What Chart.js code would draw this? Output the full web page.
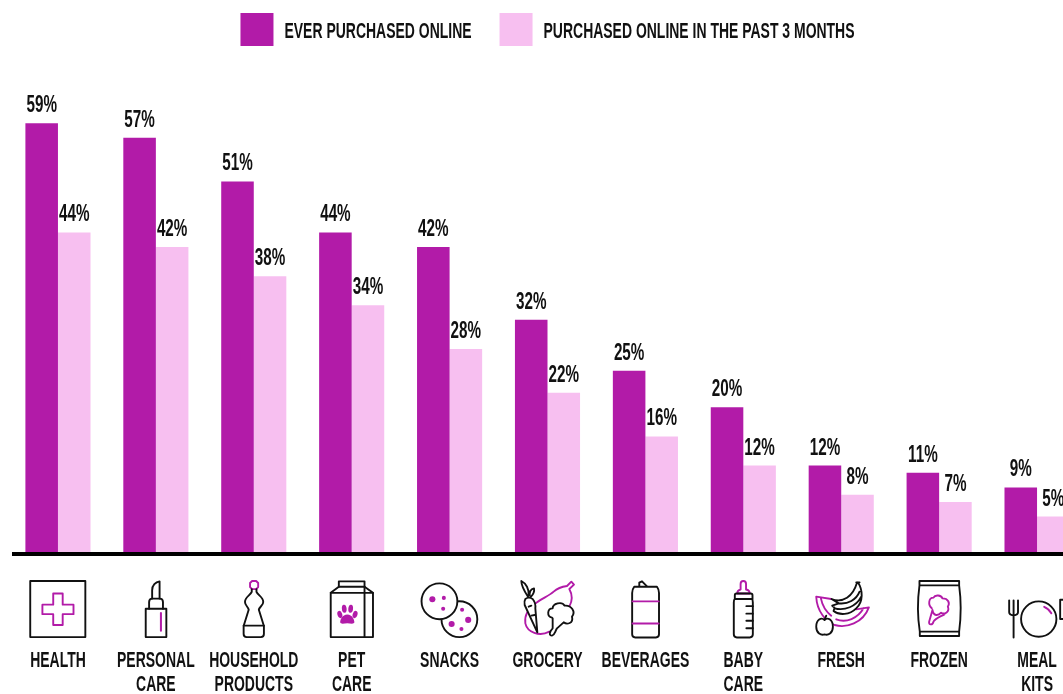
<!DOCTYPE html>
<html><head><meta charset="utf-8">
<style>html,body{margin:0;padding:0;background:#fff;overflow:hidden;width:1063px;height:694px}canvas{display:block}</style>
<script src="https://cdn.jsdelivr.net/npm/chart.js@4/dist/chart.umd.min.js"></script>
</head><body><canvas id="c" width="1086" height="694"></canvas>
<script>
const categories=[['HEALTH'],['PERSONAL','CARE'],['HOUSEHOLD','PRODUCTS'],['PET','CARE'],['SNACKS'],['GROCERY'],['BEVERAGES'],['BABY','CARE'],['FRESH'],['FROZEN'],['MEAL','KITS']];
const everPurchased=[59,57,51,44,42,32,25,20,12,11,9];
const past3Months=[44,42,38,34,28,22,16,12,8,7,5];
const seriesNames=['EVER PURCHASED ONLINE','PURCHASED ONLINE IN THE PAST 3 MONTHS'];
const DARK='#B21BA8',LIGHT='#F7BFF0',INK='#111',FONT='"Liberation Sans",Arial,sans-serif',NARROW=.635;
const Z1=2.958,Z2=2.942,C=3;
const icons=[
{s:Z1,ox:172,oy:123,p:[['k','M90 123H253V289H90Z'],['m','M158 160H186V193H218V221H186V253H158V221H126V193H158Z']]},
{s:Z1,ox:461,oy:123,p:[['k','M431 205H492V289H431Z'],['k','M441 205V185Q441 175 451 175H472Q482 175 482 185V205'],['k','M450 175V150C450 136 460 126 472 124V175'],['m','M476 218V270',6]]},
{s:Z1,ox:750,oy:123,p:[['m','M745 123H757L763 129V141L757 147H745L739 141V129Z'],['k','M744 147V155C740 165 724 170 724 185C724 196 733 198 735 208L720 256V280Q720 289 729 289H771Q780 289 780 280V256L765 208C767 198 778 196 778 185C778 170 762 165 758 155V147'],['k','M720 255H780']]},
{s:Z1,ox:1040,oy:123,p:[['k','M1002 140V124H1078V140'],['k','M978 289V158L1002 140H1078L1103 158V289Z'],['k','M978 158H1103M1078 140V289'],['mf','M1027 222C1042 222 1048 238 1048 245C1046 252 1036 248 1027 248C1018 248 1008 252 1006 245C1006 238 1012 222 1027 222Z'],['e',1005,222,7,11,-.3],['e',1018,205,7,12,-.1],['e',1037,205,7,12,.1],['e',1050,222,7,11,.3]]},
{s:Z1,ox:1330,oy:123,p:[['c',1359,236,53],['c',1300,183,53],['d',1279,177,9],['d',1313,173,6],['d',1311,205,6],['d',1367,208,6],['d',1385,238,9],['d',1336,250,9],['d',1365,265,6]]},
{s:C,ox:106.5,oy:18,p:[['m','M165 33L178 20L186 29L172 42M165 33C150 35 138 38 125 50C112 62 90 70 75 82C55 96 36 118 40 145C46 172 82 186 112 170M172 42C182 60 180 80 172 95'],['k','M40 72Q50 64 62 72Q72 85 70 100L76 172L38 90Q36 78 40 72Z','#fff'],['k','M48 65C38 50 28 35 28 18C42 25 52 42 50 62M53 62C52 50 58 42 66 40C68 50 62 60 56 66M50 95L58 92M58 122L68 120'],['k','M120 128C104 125 105 100 122 100C122 85 150 78 158 92C178 90 192 110 180 125C185 145 165 150 155 142L135 160C128 172 128 180 120 182C110 182 112 170 122 160L122 130Z','#fff']]},
{s:Z2,ox:338,oy:123,p:[['k','M305 140H372Q378 148 378 158V280Q378 289 369 289H308Q299 289 299 280V158Q299 148 305 140Z'],['k','M320 138V128L328 124L342 138'],['m','M300 183H377M300 248H377']]},
{s:Z2,ox:626,oy:123,p:[['m','M608 160Q608 150 618 148V132C618 120 634 120 634 132V148Q645 150 645 160Z'],['k','M601 176V165Q601 160 606 160H648Q653 160 653 165V176Z'],['k','M601 176Q598 178 598 186V280Q598 289 607 289H645Q654 289 654 280V186Q654 178 651 176'],['k','M635 197H654M635 219H654M635 240H654M635 262H654']]},
{s:C,ox:105,oy:18,p:[['m','M75 72L30 65C32 110 60 140 85 150C120 160 170 145 188 97L150 103M44 70C48 90 60 110 75 122M90 133C120 145 155 130 172 100'],['k','M150 22H160M155 22C170 45 172 80 150 100C130 120 100 122 82 108L85 98L78 92L98 85L76 72C110 85 140 65 152 24M98 85C125 88 150 75 160 50M85 100C115 108 150 95 165 65','#fff'],['k','M55 135C45 125 30 135 30 155C30 175 45 182 55 178C65 182 80 175 80 155C80 135 65 125 55 135ZM55 135L60 122','#fff']]},
{s:C,ox:102,oy:18,p:[['k','M43 18H162V31H43ZM44 170H162V183H44ZM43 31C37 75 37 125 44 170M162 31C168 75 168 125 162 170'],['m','M80 100C68 90 70 68 85 68C90 58 108 60 112 70C130 70 135 85 128 95C135 110 118 120 108 113C100 122 85 125 82 105L72 140C70 150 82 152 85 140C90 130 105 125 118 118']]},
{s:Z2,ox:1490,oy:123,p:[['k','M1408 180V215Q1408 222 1421 225Q1434 222 1434 215V180M1421 180V289'],['c',1495,235,52],['m','M1511 199Q1525 205 1532 218'],['k','M1558 235V178H1570V289M1558 235H1570']]}
];
function drawIcon(ctx,ic,x,y){
 ctx.save();ctx.translate(x,y);ctx.scale(1/ic.s,1/ic.s);ctx.translate(-ic.ox,-ic.oy);ctx.lineJoin='round';ctx.lineCap='round';
 const W=5.6;ctx.lineWidth=W;
 for(const q of ic.p){
  if(q[0]==='c'){ctx.beginPath();ctx.arc(q[1],q[2],q[3],0,7);ctx.fillStyle='#fff';ctx.fill();ctx.strokeStyle=INK;ctx.stroke();}
  else if(q[0]==='d'){ctx.beginPath();ctx.arc(q[1],q[2],q[3],0,7);ctx.fillStyle=DARK;ctx.fill();}
  else if(q[0]==='e'){ctx.beginPath();ctx.ellipse(q[1],q[2],q[3],q[4],q[5],0,7);ctx.fillStyle=DARK;ctx.fill();}
  else if(q[0]==='mf'){ctx.fillStyle=DARK;ctx.fill(new Path2D(q[1]));}
  else{const P=new Path2D(q[1]);
   if(typeof q[2]==='string'){ctx.fillStyle=q[2];ctx.fill(P);}
   ctx.strokeStyle=q[0]==='m'?DARK:INK;ctx.lineWidth=typeof q[2]==='number'?q[2]:W;ctx.stroke(P);ctx.lineWidth=W;}
 }
 ctx.restore();
}
const canvas=document.getElementById('c'),g=canvas.getContext('2d');
const nativeFill=g.fillText.bind(g),nativeMeasure=g.measureText.bind(g);
g.fillText=function(t,x,y){g.save();g.translate(x,y+(seriesNames.includes(t)?2:0));g.scale(NARROW,1);nativeFill(t,0,0);g.restore();};
g.measureText=function(t){const m=nativeMeasure(t);return {width:m.width*NARROW,actualBoundingBoxAscent:m.actualBoundingBoxAscent,actualBoundingBoxDescent:m.actualBoundingBoxDescent};};
const extras={id:'extras',
 afterLayout(ch){ch.legend.top=13-28;},
 afterDatasetsDraw(ch){const c=ch.ctx,y0=ch.scales.y.getPixelForValue(0);
  c.save();c.fillStyle='#000';c.fillRect(12,y0-1,ch.width,4);c.restore();
  c.save();c.font='bold 24px '+FONT;c.fillStyle=INK;c.textAlign='center';c.textBaseline='alphabetic';
  ch.data.datasets.forEach((d,i)=>ch.getDatasetMeta(i).data.forEach((b,j)=>c.fillText(d.data[j]+'%',b.x,b.y-11)));c.restore();
 },
 afterDraw(ch){const x=ch.scales.x;icons.forEach((ic,i)=>drawIcon(ch.ctx,ic,x.getPixelForTick(i),581));}
};
new Chart(canvas,{type:'bar',
 data:{labels:categories,datasets:[
  {label:seriesNames[0],data:everPurchased,backgroundColor:DARK},
  {label:seriesNames[1],data:past3Months,backgroundColor:LIGHT}]},
 options:{responsive:false,animation:false,devicePixelRatio:1,
  layout:{padding:{left:9,right:0,top:0,bottom:0}},
  datasets:{bar:{categoryPercentage:.665,barPercentage:1,borderWidth:0}},
  plugins:{tooltip:{enabled:false},
   legend:{position:'top',onClick:null,labels:{boxWidth:33,boxHeight:33,padding:28,color:INK,font:{family:FONT,weight:'bold',size:22}}}},
  scales:{
   x:{grid:{display:false},border:{display:false},afterFit(s){s.height=141;s.paddingLeft=0;s.paddingRight=0;},
      ticks:{autoSkip:false,maxRotation:0,minRotation:0,padding:88,color:INK,font:{family:FONT,weight:'bold',size:22,lineHeight:1.09}}},
   y:{display:false,min:0,max:66.16}
  }},
 plugins:[extras]});
</script></body></html>
